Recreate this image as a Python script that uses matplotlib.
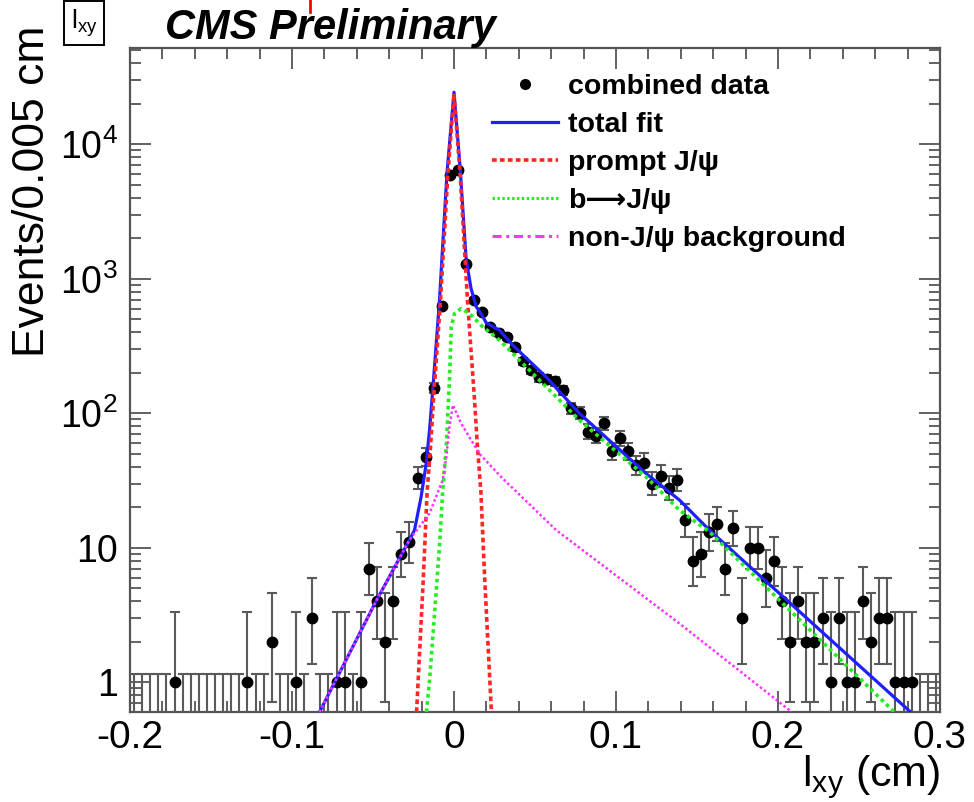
import math
import numpy as np
import matplotlib
matplotlib.use('Agg')
import matplotlib.pyplot as plt
from matplotlib.lines import Line2D
from matplotlib.ticker import FixedLocator, FuncFormatter, LogLocator, MultipleLocator

plt.rcParams['font.family'] = ['Liberation Sans', 'DejaVu Sans']
plt.rcParams['mathtext.fontset'] = 'custom'
plt.rcParams['mathtext.rm'] = 'Liberation Sans'
plt.rcParams['mathtext.it'] = 'Liberation Sans:italic'
plt.rcParams['mathtext.bf'] = 'Liberation Sans:bold'
plt.rcParams['axes.unicode_minus'] = False

# binning: 100 bins of 0.005 cm between -0.2 and 0.3
bin_edges = np.linspace(-0.2, 0.3, 101)
counts = [
    0, 0, 0, 0, 0, 1, 0, 0, 0, 0,
    0, 0, 0, 0, 1, 0, 0, 2, 0, 0,
    1, 0, 3, 0, 0, 1, 1, 0, 1, 7,
    4, 2, 4, 9, 11, 33, 47, 155, 625, 5880,
    6490, 1280, 690, 564, 436, 393, 367, 310, 244, 209,
    185, 179, 173, 148, 109, 100, 73, 68, 84, 52,
    65, 52, 41, 43, 30, 34, 28, 32, 16, 8,
    9, 13, 15, 7, 14, 3, 10, 10, 6, 8,
    4, 2, 4, 2, 2, 3, 1, 3, 1, 1,
    4, 2, 3, 3, 1, 1, 1, 0, 0, 0,
]

# fit curves
total_x = [-0.083, -0.0478, -0.0275, -0.0244, -0.0203, -0.0172, -0.0151, -0.0131, -0.009,
           -0.0043, 0.0, 0.0038, 0.0075, 0.0105, 0.0137, 0.0167, 0.0199, 0.0281, 0.0363,
           0.0569, 0.0775, 0.1186, 0.1392, 0.1577, 0.2818]
total_y = [0.6, 4.07, 11.4, 13.5, 23.9, 42, 75, 150, 680,
           6200, 24400, 6600, 1400, 850, 620, 551, 470, 414, 320,
           186, 99.5, 35.6, 22.6, 13.5, 0.6]

prompt_x = [-0.0231, -0.0211, -0.019, -0.0166, -0.0145, -0.0125, -0.0085, -0.0038, 0.0,
            0.0038, 0.0085, 0.0125, 0.0145, 0.0166, 0.019, 0.0211, 0.0231]
prompt_y = [0.6, 1.8, 5.7, 26, 56, 135, 640, 5900, 23800,
            5900, 640, 135, 56, 26, 5.7, 1.8, 0.6]

bjpsi_x = [-0.017, -0.0151, -0.012, -0.009, -0.0069, -0.0048, -0.0038, -0.0028, -0.0017,
           0.0003, 0.0044, 0.0096, 0.0178, 0.0281, 0.0775, 0.1186, 0.1392, 0.1577, 0.2717]
bjpsi_y = [0.6, 1.03, 3.24, 10.1, 27, 56, 99, 176, 438,
           551, 600, 551, 438, 349, 88.7, 33.6, 19, 13.1, 0.6]

bkg_x = [-0.083, -0.0478, -0.0275, -0.0151, -0.0069, -0.0048, -0.0028, -0.0007,
         0.0044, 0.0157, 0.0291, 0.0631, 0.1392, 0.2085]
bkg_y = [0.6, 4.07, 11.4, 18, 32, 47, 79, 115,
         84, 50, 33.6, 13.5, 2.73, 0.6]

x_ticks = [-0.2, -0.1, 0, 0.1, 0.2, 0.3]
y_tick_labels = {1: '1', 10: '10', 100: r'$\mathregular{10^{2}}$',
                 1000: r'$\mathregular{10^{3}}$', 10000: r'$\mathregular{10^{4}}$'}
legend_labels = ['combined data', 'total fit', 'prompt J/ψ', 'b\u27f6J/ψ', 'non-J/ψ background']


def pois_cdf(n, mu):
    term = math.exp(-mu)
    s = term
    for k in range(1, n + 1):
        term *= mu / k
        s += term
    return s


def solve(f, lo, hi):
    # f increasing in mu
    for _ in range(80):
        mid = 0.5 * (lo + hi)
        if f(mid) > 0:
            hi = mid
        else:
            lo = mid
    return 0.5 * (lo + hi)


def poisson_interval(n):
    # RooFit-style 1 sigma intervals
    if n == 0:
        return 0.0, solve(lambda m: 0.3173 - pois_cdf(0, m), 0, 10)
    if n > 100:
        return n - math.sqrt(n), n + math.sqrt(n)
    lo = solve(lambda m: (1 - pois_cdf(n - 1, m)) - 0.15866, 0, n + 50)
    hi = solve(lambda m: 0.15866 - pois_cdf(n, m), n, n + 10 * math.sqrt(n) + 20)
    return lo, hi


def main():
    centres = 0.5 * (bin_edges[:-1] + bin_edges[1:])
    y = np.array(counts, dtype=float)
    lo_err = []
    hi_err = []
    for n in counts:
        lo, hi = poisson_interval(n)
        lo_err.append(n - lo)
        hi_err.append(hi - n)
    lo_err = np.array(lo_err)
    hi_err = np.array(hi_err)

    fig = plt.figure(figsize=(9.74, 8.02), dpi=100)
    ax = fig.add_axes([130 / 974, 1 - 712 / 802, 810 / 974, 664 / 802])
    ax.set_yscale('log')

    err_col = '#5a5a5a'
    full = y > 0
    ax.errorbar(centres[full], y[full], yerr=[lo_err[full], hi_err[full]], fmt='o',
                color='black', ms=7.5, ecolor=err_col, elinewidth=1.5, capsize=3.5,
                capthick=1.5, zorder=3)
    ax.errorbar(centres[~full], y[~full], yerr=[lo_err[~full], hi_err[~full]], fmt='none',
                ecolor=err_col, elinewidth=1.5, capsize=3.5, capthick=1.5, zorder=3)

    ax.plot(total_x, total_y, color='#2020ff', lw=2.3, zorder=4)
    ax.plot(prompt_x, prompt_y, color='#ff2525', lw=2.6, ls=(0, (1.3, 0.9)), zorder=5)
    ax.plot(bjpsi_x, bjpsi_y, color='#22ee22', lw=2.6, ls=(0, (1.0, 1.0)), zorder=5)
    ax.plot(bkg_x, bkg_y, color='#ff33ff', lw=1.8, ls=(0, (1.0, 1.0)), zorder=6)

    ax.set_xlim(-0.2, 0.3)
    ax.set_ylim(0.6, 5.2e4)

    ax.xaxis.set_major_locator(FixedLocator(x_ticks))
    ax.xaxis.set_minor_locator(MultipleLocator(0.02))
    ax.xaxis.set_major_formatter(FuncFormatter(lambda v, p: '%g' % round(v, 3)))
    ax.yaxis.set_major_locator(LogLocator(base=10, numticks=10))
    ax.yaxis.set_minor_locator(LogLocator(base=10, subs=np.arange(2, 10), numticks=20))
    ax.yaxis.set_major_formatter(FuncFormatter(lambda v, p: y_tick_labels.get(int(round(v)), '')))
    ax.yaxis.set_minor_formatter(FuncFormatter(lambda v, p: ''))

    ax.tick_params(which='both', direction='in', top=True, right=True,
                   color='#555555', width=1.3)
    ax.tick_params(which='major', length=15)
    ax.tick_params(which='minor', length=8)
    ax.tick_params(axis='x', which='major', labelsize=28, pad=6)
    ax.tick_params(axis='y', which='major', labelsize=27, pad=9)
    for sp in ax.spines.values():
        sp.set_color('#555555')
        sp.set_linewidth(1.6)

    fig.text(33 / 974, 1 - 26 / 802, 'Events/0.005 cm', rotation=90,
             ha='center', va='top', fontsize=32)
    fig.text(940 / 974, 1 - 786 / 802, r'$\mathregular{l_{xy}}$ (cm)',
             ha='right', va='baseline', fontsize=31)
    fig.text(165 / 974, 1 - 39 / 802, 'CMS Preliminary', fontsize=30,
             fontweight='bold', style='italic')
    fig.text(84 / 974, 1 - 23 / 802, r'$\mathregular{l_{xy}}$', fontsize=19,
             ha='center', va='center',
             bbox=dict(boxstyle='square,pad=0.25', fc='white', ec='black', lw=1.4))
    fig.add_artist(Line2D([310 / 974, 310 / 974], [1, 1 - 12 / 802], color='red', lw=2))

    handles = [
        Line2D([], [], ls='none', marker='o', color='black', ms=7),
        Line2D([], [], color='#2020ff', lw=2.3),
        Line2D([], [], color='#ff2525', lw=2.6, ls=(0, (1.3, 0.9))),
        Line2D([], [], color='#22ee22', lw=2.2, ls=(0, (0.8, 0.8))),
        Line2D([], [], color='#ff33ff', lw=2.2, ls=(0, (3, 1.5, 1, 1.5))),
    ]
    ax.legend(handles, legend_labels, loc='upper left', bbox_to_anchor=(478 / 974, 1 - 60 / 802),
              bbox_transform=fig.transFigure, frameon=False, borderpad=0,
              handlelength=2.3, handletextpad=0.35, labelspacing=0.42,
              prop={'size': 20.5, 'weight': 'bold'})

    fig.savefig('out.png', dpi=100)


if __name__ == '__main__':
    main()
